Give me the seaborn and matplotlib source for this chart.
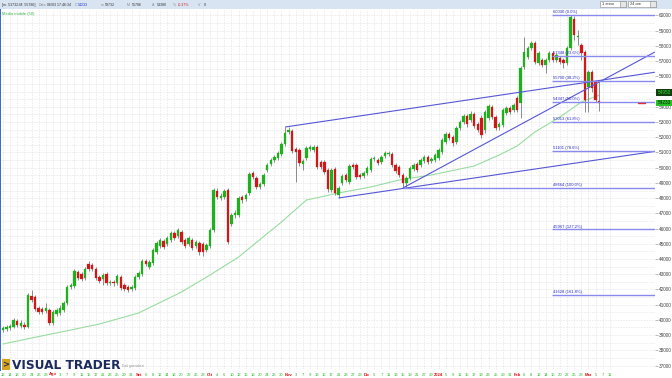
import numpy as np
import pandas as pd
import matplotlib
matplotlib.use('Agg')
import matplotlib.pyplot as plt
import seaborn as sns
from matplotlib.patches import Rectangle

# ---------------- data ----------------
opens = [39340, 39400, 39470, 39530, 39930, 39600, 39660, 39530, 41570, 41500,
         40780, 40710, 40580, 40650, 39800, 40390, 40450, 40650, 41110, 42160,
         42230, 43150, 43010, 42750, 43670, 43610, 43340, 42820, 42690, 43010,
         42420, 42490, 42420, 42820, 42290, 42160, 42030, 42090, 42820, 43010,
         43870, 43470, 43740, 44460, 44850, 45180, 44990, 45250, 45710, 45510,
         45770, 45250, 44990, 45250, 44850, 45050, 44990, 44590, 44850, 45910,
         48470, 48010, 48070, 48530, 46300, 46890, 46890, 48070, 47940, 48340,
         49650, 49320, 48730, 48930, 49850, 50240, 50500, 50640, 50900, 51560,
         52340, 52410, 51230, 51160, 50240, 50640, 51230, 51160, 51360, 50370,
         50370, 49850, 48530, 49910, 48200, 48990, 49520, 49060, 50180, 50180,
         49520, 49450, 49650, 49850, 50570, 50500, 50370, 50770, 50900, 50900,
         50180, 50040, 49520, 48990, 49320, 49910, 50240, 50180, 50440, 50700,
         50440, 50500, 50640, 51030, 51690, 52210, 52020, 51690, 52610, 53000,
         53400, 53130, 53530, 52870, 53260, 52480, 53260, 53990, 53330, 52670,
         52800, 53590, 53920, 53790, 54580, 54250, 56610, 57270, 57860, 58190,
         56880, 57070, 56750, 57070, 57530, 57070, 57210, 57070, 56880, 57860,
         59770, 58590, 58060, 57600, 55300, 56290, 55630, 54380]
highs = [39600, 39660, 39730, 40120, 40060, 39990, 39860, 41770, 41960, 41630,
         40910, 40850, 41110, 40780, 40650, 40780, 40980, 41240, 42290, 42420,
         43340, 43280, 43150, 43470, 43870, 43740, 43470, 42950, 43080, 43150,
         42620, 42620, 43010, 42950, 42420, 42290, 42290, 42950, 43210, 44000,
         44000, 43930, 44720, 45180, 45380, 45310, 45510, 45840, 45840, 46040,
         45910, 45380, 45510, 45380, 45250, 45180, 45120, 45050, 46040, 48660,
         48660, 48340, 48600, 48660, 47020, 47220, 48140, 48200, 48340, 49720,
         49780, 49450, 49060, 49650, 50310, 50640, 50830, 51100, 51690, 52670,
         52670, 52540, 51360, 51290, 50570, 51420, 51490, 51490, 51490, 50500,
         50500, 49980, 49980, 50040, 48800, 49580, 49650, 50240, 50310, 50310,
         49650, 49780, 50110, 50700, 50770, 50640, 50830, 51100, 51100, 51030,
         50310, 50180, 49650, 49450, 50110, 50310, 50370, 50640, 50830, 50830,
         50700, 50960, 51290, 51950, 52340, 52340, 52150, 52740, 53130, 53530,
         53530, 53720, 53660, 53000, 53460, 53790, 54180, 54120, 53460, 53000,
         53920, 54050, 54050, 54250, 54710, 56680, 58590, 57990, 58320, 58320,
         57670, 57210, 57210, 57670, 57670, 57530, 57340, 57210, 57990, 60030,
         59960, 59050, 58190, 57730, 56420, 56420, 55760, 55786]
lows = [39200, 39270, 39340, 39470, 39530, 39470, 39400, 39470, 41180, 40580,
        40390, 40390, 40450, 39660, 39660, 40260, 40320, 40520, 40980, 42030,
        42090, 42620, 42550, 42620, 43210, 43210, 42620, 42420, 42290, 42290,
        42290, 42230, 42290, 41960, 41880, 41820, 41880, 41960, 42690, 42880,
        43540, 43340, 43610, 44330, 44720, 44660, 44850, 45120, 45250, 45380,
        44990, 44720, 44850, 44590, 44720, 44260, 44200, 44460, 44720, 45770,
        47940, 47880, 47940, 44990, 46170, 46690, 46760, 47680, 47810, 48200,
        49260, 48600, 48600, 48800, 49720, 50110, 50370, 50500, 50770, 51420,
        52210, 50960, 49060, 50110, 49850, 50500, 51100, 51030, 49910, 49910,
        49580, 48400, 48400, 48200, 48010, 48860, 49060, 48930, 49910, 49260,
        49260, 49320, 49520, 49720, 50440, 50180, 50240, 50640, 50770, 50040,
        49650, 49390, 48664, 48700, 49190, 49780, 49720, 50040, 50310, 50240,
        50310, 50370, 50500, 50900, 51560, 51820, 51420, 51560, 52480, 52870,
        52670, 53000, 52610, 52340, 51950, 52280, 53130, 53200, 52480, 52480,
        52670, 53460, 53530, 53660, 53660, 53260, 56480, 57140, 57730, 56810,
        56750, 56610, 56220, 56940, 56940, 56940, 56810, 56550, 56750, 57730,
        58390, 58060, 57070, 53660, 53660, 54970, 54320, 53732]
closes = [39470, 39530, 39600, 39990, 39660, 39800, 39530, 41630, 41310, 40710,
          40520, 40520, 40780, 39800, 40520, 40650, 40780, 41110, 42160, 42290,
          43210, 42750, 42690, 43340, 43340, 43340, 42750, 42550, 42950, 42420,
          42490, 42420, 42880, 42090, 42030, 41960, 42160, 42820, 43080, 43870,
          43670, 43800, 44590, 45050, 45250, 44790, 45380, 45710, 45380, 45910,
          45120, 44850, 45380, 44720, 45120, 44460, 44460, 44920, 45910, 48530,
          48070, 48140, 48470, 45120, 46890, 47020, 48010, 47880, 48200, 49580,
          49390, 48730, 48930, 49520, 50180, 50500, 50700, 50960, 51560, 52280,
          52480, 51100, 51030, 50310, 50440, 51290, 51360, 51360, 50040, 50040,
          49720, 48600, 49850, 48340, 48660, 49450, 49190, 50110, 50040, 49390,
          49390, 49650, 49980, 50570, 50640, 50310, 50700, 50960, 50960, 50180,
          49780, 49520, 48990, 49320, 49980, 50180, 49850, 50500, 50700, 50370,
          50570, 50830, 51160, 51820, 52210, 51950, 51620, 52610, 53000, 53400,
          52870, 53530, 52740, 52480, 52150, 53660, 54050, 53330, 52610, 52870,
          53790, 53920, 53660, 54120, 53790, 56550, 57600, 57860, 58190, 56940,
          57530, 56750, 57070, 57530, 57070, 57400, 56940, 56880, 57860, 59900,
          58720, 58650, 57530, 54450, 56290, 55230, 54434, 54233]

# 50-period moving average, read at selected bars
ma_bar = [0, 8, 19, 27, 38, 50, 58, 66, 78, 85, 94, 103, 111, 120, 132, 139, 144, 149, 156, 162, 167]
ma_value = [38415, 38809, 39335, 39729, 40452, 41832, 42949, 44131, 46431, 47876, 48336,
            48730, 49190, 49519, 50110, 50833, 51424, 52344, 53329, 54315, 54774]

# trend lines (bar, price) -> (bar, price)
trend_lines = [(79, 52670, 182.6, 56270),
               (94, 48010, 182.6, 51070),
               (112, 48664, 182.6, 57600)]

# Fibonacci retracement
fib_pct = ['0.0%', '23.6%', '38.2%', '50.0%', '61.8%', '78.6%', '100.0%', '127.2%', '161.8%']
fib_level = [60030, 57348, 55688, 54347, 53006, 51096, 48664, 45938, 41640]
fib_value_txt = ['60030', '57348', '55700', '54347', '53013', '51101', '48664', '45967', '41628']

price_ticks = list(range(37000, 60001, 1000))
hidden_price_labels = [55000]          # covered by the quote box in the reference
month_names = ['Gen', 'Feb', 'Mar', 'Apr', 'Mag', 'Giu', 'Lug', 'Ago', 'Set', 'Ott', 'Nov', 'Dic']
holidays = ['2023-12-25', '2023-12-26', '2024-01-01']
first_day, last_label_day = '2023-07-12', '2024-03-15'

header_items = [('[m. 53732-M. 55786]', '#333333'), ('Data', '#8a8a8a'), ('06/03 17:46:34', '#333333'),
                ('C', '#8a8a8a'), ('54233', '#2030c8'), ('m', '#8a8a8a'), ('53732', '#333333'),
                ('M', '#8a8a8a'), ('55786', '#333333'), ('A', '#8a8a8a'), ('54380', '#333333'),
                ('%', '#8a8a8a'), ('-0.37%', '#d02020'), ('V', '#8a8a8a'), ('0', '#333333')]
header_x = [2, 39, 47, 75, 78, 101, 105, 127, 132, 152, 157, 173, 178, 198, 204]

# ---------------- figure ----------------
sns.set_theme(style='white')
plt.rcParams['font.family'] = ['Liberation Sans', 'DejaVu Sans']

W, H = 672, 378
fig = plt.figure(figsize=(W / 100, H / 100), dpi=100)
fig.patch.set_facecolor('white')


def fx(px):
    return px / W


def fy(py):
    return 1 - py / H


def rect(x, y, w, h, **kw):
    fig.add_artist(Rectangle((fx(x), fy(y + h)), w / W, h / H, transform=fig.transFigure, **kw))


ax = fig.add_axes([0, fy(370), fx(655), (370 - 10) / H])
ax.set_facecolor('white')
XL = (-0.84, 182.63)
YL = (36707, 60359)
ax.set_xlim(*XL)
ax.set_ylim(*YL)

# dates / x labels
days = pd.bdate_range(first_day, last_label_day)
days = days[~days.isin(pd.to_datetime(holidays))]
lab_idx, lab_txt, lab_col = [], [], []
prev_month = None
for i in range(0, 171, 2):
    d = days[i]
    if prev_month is not None and d.month != prev_month:
        lab_txt.append('2024' if d.month == 1 else month_names[d.month - 1])
        lab_col.append('#e01010')
    else:
        lab_txt.append(str(d.day))
        lab_col.append('#2cb52c')
    lab_idx.append(i)
    prev_month = d.month

# grid
ax.hlines(np.arange(37000, 60001, 500), XL[0], XL[1], colors='#d4d4d4', lw=0.45,
          linestyles=(0, (1, 1.6)), zorder=0)
ax.vlines(lab_idx, YL[0], YL[1], colors='#d4d4d4', lw=0.45, linestyles=(0, (1, 1.6)), zorder=0)

# moving average
sns.lineplot(x=ma_bar, y=ma_value, ax=ax, color='#98dca0', lw=0.8, zorder=2)

# candles
n = len(closes)
idx = np.arange(n)
o = np.array(opens, dtype=float)
c = np.array(closes, dtype=float)
up = c >= o
cols = np.where(up, '#1fb01f', '#d01818')
ax.vlines(idx, lows, highs, colors='#7a7a7a', lw=0.6, zorder=3)
body_bottom = np.minimum(o, c)
body_h = np.maximum(np.abs(c - o), 40)
ax.bar(idx, body_h, bottom=body_bottom, width=0.68, color=cols, edgecolor=cols, lw=0.2, zorder=4)

# trend lines
for x0, p0, x1, p1 in trend_lines:
    ax.plot([x0, x1], [p0, p1], color='#5656d6', lw=0.8, zorder=5, solid_capstyle='butt')

# fibonacci
for pct, lvl, txt in zip(fib_pct, fib_level, fib_value_txt):
    start = 112 if pct == '100.0%' else 153.8
    ax.hlines(lvl, start, 182.6, colors='#8a8aee', lw=1.0, zorder=5)
    ax.text(154.0, lvl + 45, f'{txt} ({pct})', fontsize=3.0, color='#2b2bc8',
            ha='left', va='bottom', zorder=6)

# last price marker
ax.plot([177.9, 179.8], [54233, 54233], color='#e03030', lw=1.0, zorder=6)

# axes styling
for s in ax.spines.values():
    s.set_visible(False)
ax.yaxis.tick_right()
ax.set_yticks(price_ticks)
ax.set_yticklabels(['' if v in hidden_price_labels else str(v) for v in price_ticks],
                   fontsize=3.4, color='#444444')
ax.tick_params(axis='y', length=2, width=0.4, color='#888888', pad=0.5, right=True)
ax.set_xticks(lab_idx)
ax.set_xticklabels(lab_txt, fontsize=3.0)
for t, col in zip(ax.get_xticklabels(), lab_col):
    t.set_color(col)
    if col == '#e01010':
        t.set_fontweight('bold')
ax.tick_params(axis='x', length=0, pad=1.8)
ax.set_xlabel('')
ax.set_ylabel('')

# header bar
rect(0, 0, W, 8.5, facecolor='#d8e4f2', edgecolor='none', zorder=1)
rect(0, 8.5, W, 0.8, facecolor='#8fa9cf', edgecolor='none', zorder=1)
for (txt, col), xp in zip(header_items, header_x):
    fig.text(fx(xp), fy(4.6), txt, fontsize=2.6, color=col, ha='left', va='center')
# dropdowns
rect(600, 1.2, 26, 6.2, facecolor='white', edgecolor='#8a8a8a', lw=0.4)
rect(620, 1.2, 6, 6.2, facecolor='#e6e6e6', edgecolor='#8a8a8a', lw=0.4)
fig.text(fx(602), fy(4.4), '1 anno', fontsize=2.8, color='#333333', va='center')
rect(628, 1.2, 28, 6.2, facecolor='white', edgecolor='#8a8a8a', lw=0.4)
rect(650, 1.2, 6, 6.2, facecolor='#e6e6e6', edgecolor='#8a8a8a', lw=0.4)
fig.text(fx(630), fy(4.4), '24 ore', fontsize=2.8, color='#333333', va='center')

fig.text(fx(2), fy(13.5), 'Media mobile (50)', fontsize=3.0, color='#3cb44a', va='center')

# left blue strip
rect(0, 9, 1.3, 362, facecolor='#3a6fd0', edgecolor='none')

# price boxes on right axis
rect(656, 89.5, 16, 6, facecolor='#123c12', edgecolor='none')
fig.text(fx(657.5), fy(92.5), '54950', fontsize=3.4, color='#30e030', va='center')
rect(656, 99.5, 16, 6, facecolor='#25c025', edgecolor='none')
fig.text(fx(657.5), fy(102.5), '54233', fontsize=3.4, color='#102010', va='center')

# logo
rect(2, 359, 8, 11, facecolor='#d9a520', edgecolor='none')
fig.text(fx(6), fy(364.5), '>', fontsize=6, color='#1c2a5e', ha='center', va='center',
         fontweight='bold', family='DejaVu Sans')
fig.text(fx(12), fy(369.2), 'VISUAL TRADER', fontsize=8.7, fontweight='bold', color='#1c2a5e',
         ha='left', va='baseline', family='DejaVu Sans')
fig.text(fx(122), fy(366.5), 'Dati giornalieri', fontsize=2.4, color='#909090', va='center')

fig.savefig('out.png', dpi=100, facecolor='white')
